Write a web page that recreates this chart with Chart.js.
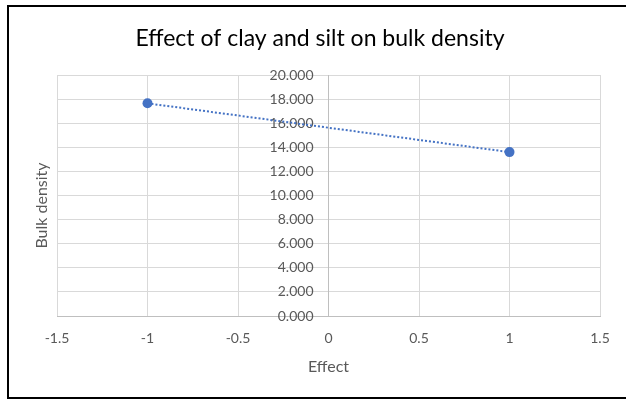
<!DOCTYPE html>
<html>
<head>
<meta charset="utf-8">
<script src="https://cdn.jsdelivr.net/npm/chart.js@4.4.1/dist/chart.umd.min.js"></script>
<style>
  html, body { margin: 0; padding: 0; background: #ffffff; }
  #wrap { width: 626px; height: 401px; position: relative; }
</style>
</head>
<body>
<div id="wrap"><canvas id="c" width="626" height="401"></canvas></div>
<script>
// Effect values (x) and measured bulk density (y)
const effects = [-1, 1];
const bulkDensity = [17.65, 13.6];

const xTicks = [-1.5, -1, -0.5, 0, 0.5, 1, 1.5];
const yTicks = [0, 2, 4, 6, 8, 10, 12, 14, 16, 18, 20];

const chartTitle = 'Effect of clay and silt on bulk density';
const xTitle = 'Effect';
const yTitle = 'Bulk density';

const FONT = 'Lato, "Open Sans", sans-serif';
const TEXT = '#595959';
const GRID = '#d9d9d9';
const AXIS = '#bfbfbf';
const BLUE = '#4472c4';

const points = effects.map((x, i) => ({ x, y: bulkDensity[i] }));

// frame, chart title and rotated y-axis title; y tick labels sit left of the x=0 axis
const decor = {
  id: 'decor',
  beforeDraw(chart) {
    const ctx = chart.ctx;
    ctx.save();
    ctx.fillStyle = '#ffffff';
    ctx.fillRect(0, 0, chart.width, chart.height);
    ctx.strokeStyle = '#000000';
    ctx.lineWidth = 2;
    ctx.beginPath();
    ctx.moveTo(chart.width + 2, 6);
    ctx.lineTo(8, 6);
    ctx.lineTo(8, 398);
    ctx.lineTo(chart.width + 2, 398);
    ctx.stroke();

    ctx.fillStyle = '#000000';
    ctx.font = '23px ' + FONT;
    ctx.textAlign = 'center';
    ctx.textBaseline = 'alphabetic';
    ctx.fillText(chartTitle, 320, 46);
    ctx.restore();

    // move the y tick labels away from the axis line
    const ys = chart.scales.y;
    const items = ys.getLabelItems(chart.chartArea);
    items.forEach(it => {
      if (!it._shifted) {
        it.options.translation[0] -= 15;
        it._shifted = true;
      }
    });
  },
  afterDraw(chart) {
    const ctx = chart.ctx;
    const a = chart.chartArea;
    ctx.save();
    ctx.translate(42, (a.top + a.bottom) / 2 + 10);
    ctx.rotate(-Math.PI / 2);
    ctx.fillStyle = TEXT;
    ctx.font = '16px ' + FONT;
    ctx.textAlign = 'center';
    ctx.textBaseline = 'middle';
    ctx.fillText(yTitle, 0, 0);
    ctx.restore();
  }
};

new Chart(document.getElementById('c'), {
  type: 'scatter',
  data: {
    datasets: [{
      data: points,
      showLine: true,
      borderColor: BLUE,
      borderWidth: 2,
      borderDash: [2, 2],
      borderCapStyle: 'butt',
      pointRadius: 5,
      pointBackgroundColor: BLUE,
      pointBorderColor: BLUE,
      pointBorderWidth: 0
    }]
  },
  options: {
    responsive: false,
    animation: false,
    devicePixelRatio: 1,
    layout: { padding: { left: 57, right: 26, top: 75, bottom: 4 } },
    plugins: {
      legend: { display: false },
      tooltip: { enabled: false },
      title: { display: false }
    },
    scales: {
      x: {
        type: 'linear',
        min: -1.5,
        max: 1.5,
        afterBuildTicks(scale) { scale.ticks = xTicks.map(v => ({ value: v })); },
        afterFit(scale) { scale.height = 81; },
        grid: { color: GRID, drawTicks: false },
        border: { color: AXIS },
        ticks: {
          color: TEXT,
          font: { family: FONT, size: 14 },
          padding: 14,
          callback: v => String(v)
        },
        title: {
          display: true,
          text: xTitle,
          color: TEXT,
          font: { family: FONT, size: 16 },
          padding: { top: 6, bottom: 21 }
        }
      },
      y: {
        type: 'linear',
        position: { x: 0 },
        min: 0,
        max: 20,
        afterBuildTicks(scale) { scale.ticks = yTicks.map(v => ({ value: v })); },
        grid: { color: GRID, drawTicks: false },
        border: { color: AXIS },
        ticks: {
          color: TEXT,
          font: { family: FONT, size: 14 },
          padding: 16,
          callback: v => Number(v).toFixed(3)
        }
      }
    }
  },
  plugins: [decor]
});
</script>
</body>
</html>
